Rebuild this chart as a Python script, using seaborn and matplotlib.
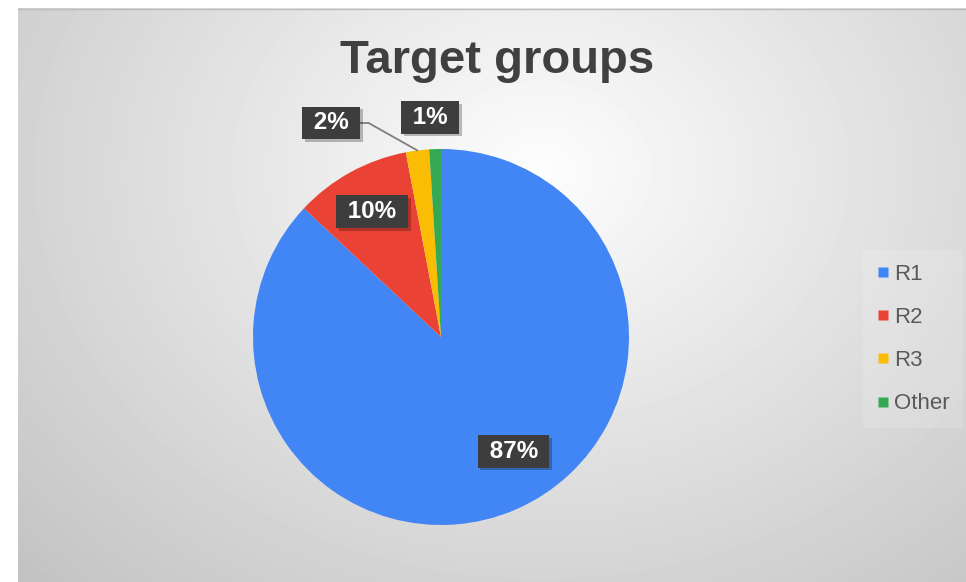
import numpy as np
import seaborn as sns
import matplotlib.pyplot as plt
import matplotlib.patheffects as pe
from matplotlib.lines import Line2D

# Data
groups = ["R1", "R2", "R3", "Other"]
shares = [87, 10, 2, 1]
colours = ["#4285F4", "#EA4335", "#FBBC04", "#34A853"]

sns.set_theme(style="white")
plt.rcParams["font.family"] = ["Liberation Sans", "DejaVu Sans"]
palette = sns.color_palette(colours)

W, H = 966, 582
fig = plt.figure(figsize=(W / 100, H / 100), dpi=100)
fig.patch.set_facecolor("white")

# radial grey background of the chart area
bg = fig.add_axes([18 / W, 0, 1 - 18 / W, 1 - 8 / H])
yy, xx = np.mgrid[8:H, 18:W]
d = np.sqrt(((xx - 540) / 520) ** 2 + ((yy - 170) / 420) ** 2)
shade = np.clip(253 - 42 * d, 0, 255) / 255
bg.imshow(shade, cmap="gray", vmin=0, vmax=1, aspect="auto", interpolation="bilinear")
bg.axis("off")
fig.add_artist(Line2D([18 / W, 1], [1 - 8.5 / H, 1 - 8.5 / H], color="#bdbdbd", lw=1))

# pie
cx, cy, r = 441, 337, 188
ax = fig.add_axes([(cx - r) / W, (H - cy - r) / H, 2 * r / W, 2 * r / H])
wedges, _ = ax.pie(shares, colors=palette, startangle=90, counterclock=False,
                   radius=1, wedgeprops=dict(linewidth=0))
ax.set_xlim(-1, 1)
ax.set_ylim(-1, 1)
ax.set_facecolor("none")

# data labels (dark boxes with shadow)
label_dist = [0.72, 0.76, 1.28, 1.17]
angle_shift = [9, 0, 20, 1]
for w, s, dist, shift in zip(wedges, shares, label_dist, angle_shift):
    mid = np.deg2rad((w.theta1 + w.theta2) / 2)
    ang = mid + np.deg2rad(shift)
    lx, ly = dist * np.cos(ang), dist * np.sin(ang)
    if dist > 1.2:
        # leader line from wedge edge to the label
        ex, ey = np.cos(mid), np.sin(mid)
        ax.plot([ex, lx + 0.2, lx], [ey, ly, ly], color="#7f7f7f", lw=1.3,
                clip_on=False, zorder=3)
    t = ax.text(lx, ly, f" {s}% ", ha="center", va="center", fontsize=17.5,
                fontweight="bold", color="white", zorder=5, clip_on=False,
                bbox=dict(boxstyle="square,pad=0.2", fc="#3d3d3d", ec="none"))
    t.get_bbox_patch().set_path_effects(
        [pe.withSimplePatchShadow(offset=(2, -2), shadow_rgbFace="black", alpha=0.25)])

# title
fig.text(497 / W, 1 - 73 / H, "Target groups", ha="center", va="baseline",
         fontsize=34, fontweight="bold", color="#404040")

# legend
handles = [Line2D([], [], ls="none", marker="s", markersize=6.5,
                  markerfacecolor=c, markeredgecolor="none") for c in palette]
leg = fig.legend(handles, groups, loc="center left", bbox_to_anchor=(852 / W, 1 - 339 / H),
                 fontsize=16, labelspacing=1.0, handlelength=0.6, handletextpad=0.2,
                 borderpad=0.6, frameon=True, fancybox=False)
leg.get_frame().set_facecolor("white")
leg.get_frame().set_alpha(0.15)
leg.get_frame().set_edgecolor("none")
for txt in leg.get_texts():
    txt.set_color("#595959")

fig.savefig("out.png", dpi=100)
